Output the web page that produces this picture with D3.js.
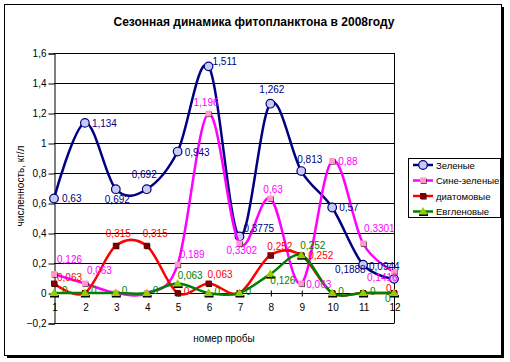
<!DOCTYPE html>
<html><head><meta charset="utf-8">
<script src="https://cdn.jsdelivr.net/npm/d3@7"></script>
<style>body{margin:0;background:#fff}svg{display:block;font-family:Arial,"Liberation Sans",sans-serif}</style>
</head><body>
<script>
const categories = [1,2,3,4,5,6,7,8,9,10,11,12];
const yTicks = [-0.2,0,0.2,0.4,0.6,0.8,1,1.2,1.4,1.6];
const seriesNames = ["Зеленые","Сине-зеленые","диатомовые","Евгленовые"];
const zelenye = [0.63,1.134,0.692,0.692,0.943,1.511,0.3775,1.262,0.813,0.57,0.1888,0.0944];
const sineZelenye = [0.126,0.063,0,0,0.189,1.196,0.3302,0.63,0.063,0.88,0.3301,0.1416];
const diatom = [0.063,0,0.315,0.315,0,0.063,0,0.252,0.252,0,0,0];
const evglen = [0,0,0,0,0.063,0,0,0.126,0.252,0,0,0];
const labelsZel = ["0,63","1,134","0,692","0,692","0,943","1,511","0,3775","1,262","0,813","0,57","0,1888","0,0944"];
const labelsSin = ["0,126","0,063",null,null,"0,189","1,196","0,3302","0,63","0,063","0,88","0,3301","0,1416"];
const labelsDia = ["0,063",null,"0,315","0,315","0",  "0,063",null,"0,252","0,252",null,null,"0"];
const labelsEvg = ["0","0","0","0","0,063","0","0","0,126","0,252","0","0","0"];

// layout (label offsets relative to point: [dx, dy baseline])
const offZel = [[8,3],[7,4],[-11,14],[-15,-11],[7,4],[4,-1],[4,-4],[-11,-11],[-4,-8],[7,3],[-28,8],[-25,-9]];
const offSin = [[3,-11],[2,-10],null,null,[2,-7],[-15,-8],[-13,11],[-7,-6],[5,4],[6,4],[1,-11],[-27,9]];
const offDia = [[3,-3],null,[-10,-9],[-4,-9],[6,2],[-1,-6],null,[-3,-5],[7,4],null,null,[-8,-1]];
const offEvg = [[8,1],[6,1],[6,1],[6,1],[0,-5],[6,2],[6,2],[0,10],[-1,-6],[6,2],[7,2],[-9,9]];

const W=510,H=362;
const svg=d3.select("body").append("svg").attr("width",W).attr("height",H);
// frame with shadow
svg.append("rect").attr("x",7).attr("y",7).attr("width",497).attr("height",351).attr("fill","#000");
svg.append("rect").attr("x",4.5).attr("y",4.5).attr("width",497).attr("height",351).attr("fill","#fff").attr("stroke","#000");

svg.append("text").attr("x",254).attr("y",26).attr("text-anchor","middle")
  .attr("font-size",12).attr("font-weight","bold").text("Сезонная динамика фитопланктона в 2008году");

const x=d3.scalePoint().domain(categories).range([54,394]);
const y=d3.scaleLinear().domain([-0.2,1.6]).range([323,53]);

// gridlines
svg.append("g").selectAll("line").data(yTicks).join("line")
  .attr("x1",54).attr("x2",394).attr("y1",d=>Math.round(y(d))+0.5).attr("y2",d=>Math.round(y(d))+0.5)
  .attr("stroke","#000").attr("stroke-width",1);
// plot border right
svg.append("line").attr("x1",394.5).attr("x2",394.5).attr("y1",y(1.6)).attr("y2",y(-0.2)+0.5).attr("stroke","#000");

// y axis
const yAxis=d3.axisLeft(y).tickValues(yTicks).tickSize(6).tickPadding(2)
  .tickFormat(d=>d3.format(".1~f")(d).replace(".",","));
const gy=svg.append("g").attr("transform","translate(54.5,0.5)").call(yAxis);
gy.selectAll("text").attr("font-size",10).attr("font-family","Arial,sans-serif");
gy.select(".domain").attr("stroke","#000");

// x axis at zero
const xAxis=d3.axisBottom(x).tickSize(3).tickPadding(7);
const gx=svg.append("g").attr("transform",`translate(0.5,${Math.round(y(0))+0.5})`).call(xAxis);
gx.select(".domain").remove();
gx.selectAll(".tick line").attr("y1",-3).attr("y2",3).attr("stroke","#000");
gx.selectAll("text").attr("font-size",10).attr("font-family","Arial,sans-serif");

// axis titles
svg.append("text").attr("transform","translate(24,186) rotate(-90)").attr("text-anchor","middle")
  .attr("font-size",10).text("численность, кг/л");
svg.append("text").attr("x",224).attr("y",342).attr("text-anchor","middle").attr("font-size",10).text("номер пробы");

const line=d3.line().x((d,i)=>x(categories[i])).y(d=>y(d)).curve(d3.curveCardinal.tension(0));

const series=[
  {name:seriesNames[0],vals:zelenye,color:"#000080",lab:labelsZel,off:offZel,labColor:"#000080",marker:"circle",fill:"#C8CCF4"},
  {name:seriesNames[1],vals:sineZelenye,color:"#FF00FF",lab:labelsSin,off:offSin,labColor:"#FF00FF",marker:"square",fill:"#FF99CC"},
  {name:seriesNames[2],vals:diatom,color:"#FF0000",lab:labelsDia,off:offDia,labColor:"#FF0000",marker:"square",fill:"#800000"},
  {name:seriesNames[3],vals:evglen,color:"#008000",lab:labelsEvg,off:offEvg,labColor:"#008000",marker:"triangle",fill:"#99CC00"}
];

function drawMarker(g,type,fill,stroke,cx,cy){
  if(type==="circle"){
    g.append("circle").attr("cx",cx).attr("cy",cy).attr("r",4.3).attr("fill",fill).attr("stroke",stroke).attr("stroke-width",1.2);
  } else if(type==="square"){
    g.append("rect").attr("x",cx-2).attr("y",cy-2).attr("width",5.5).attr("height",5.5).attr("fill","#000");
    g.append("rect").attr("x",cx-3).attr("y",cy-3).attr("width",6).attr("height",6).attr("fill",fill);
  } else {
    g.append("rect").attr("x",cx-4).attr("y",cy+2).attr("width",9).attr("height",2.5).attr("fill","#000");
    g.append("path").attr("d",`M${cx},${cy-4.5}L${cx+4.5},${cy+3}L${cx-4.5},${cy+3}Z`).attr("fill",fill);
  }
}

const gLines=svg.append("g");
series.forEach(s=>{
  gLines.append("path").attr("d",line(s.vals)).attr("fill","none").attr("stroke",s.color).attr("stroke-width",2.5);
  const gm=gLines.append("g");
  s.vals.forEach((v,i)=>drawMarker(gm,s.marker,s.fill,s.color,x(categories[i]),y(v)));
});
// labels
series.forEach(s=>{
  s.vals.forEach((v,i)=>{
    if(!s.lab[i]||!s.off[i])return;
    svg.append("text").attr("x",x(categories[i])+s.off[i][0]).attr("y",y(v)+s.off[i][1])
      .attr("font-size",10).attr("fill",s.labColor).text(s.lab[i]);
  });
});

// legend
const lg=svg.append("g");
lg.append("rect").attr("x",408.5).attr("y",158.5).attr("width",92).attr("height",59).attr("fill","#fff").attr("stroke","#000");
series.forEach((s,i)=>{
  const yy=165+i*15.5;
  lg.append("line").attr("x1",413).attr("x2",433).attr("y1",yy).attr("y2",yy).attr("stroke",s.color).attr("stroke-width",2.5);
  drawMarker(lg,s.marker,s.fill,s.color,423,yy);
  lg.append("text").attr("x",436).attr("y",yy+3.5).attr("font-size",9.5).text(s.name);
});
</script>
</body></html>
